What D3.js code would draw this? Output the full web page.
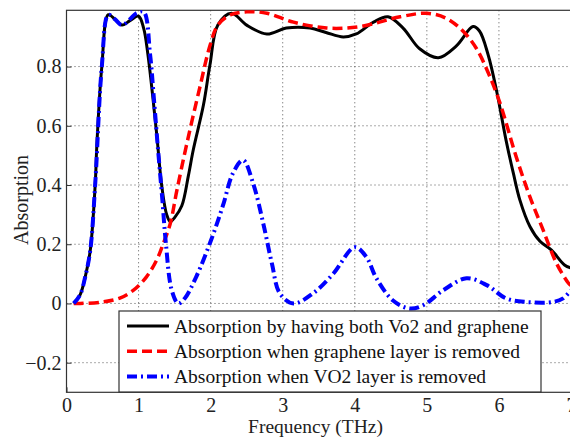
<!DOCTYPE html>
<html>
<head>
<meta charset="utf-8">
<script src="https://cdn.jsdelivr.net/npm/d3@7"></script>
<style>
  body { margin: 0; background: #fff; }
</style>
</head>
<body>
<div class="plot"></div>
<script>
// series: both VO2 and graphene
var fBoth = [0.1,0.19,0.26,0.33,0.40,0.42,0.49,0.58,0.67,0.77,0.88,1.0,1.07,1.13,1.25,1.32,1.39,1.44,1.5,1.6,1.69,1.76,1.90,1.99,2.1,2.29,2.5,2.78,3.05,3.38,3.6,3.84,4.02,4.26,4.46,4.67,4.90,5.16,5.41,5.64,5.73,5.85,5.97,6.1,6.2,6.29,6.43,6.57,6.73,6.91,7.0];
var vBoth = [0,0.03,0.09,0.18,0.41,0.53,0.80,0.975,0.96,0.94,0.955,0.97,0.93,0.84,0.575,0.4,0.3,0.276,0.29,0.33,0.43,0.52,0.67,0.805,0.94,0.98,0.94,0.91,0.93,0.93,0.915,0.90,0.91,0.95,0.968,0.93,0.86,0.83,0.87,0.935,0.92,0.84,0.715,0.55,0.44,0.35,0.26,0.21,0.18,0.13,0.12];

// series: graphene removed
var fNoGr = [0.1,0.19,0.5,0.74,0.93,1.11,1.25,1.34,1.44,1.53,1.67,1.85,1.99,2.1,2.27,2.5,2.78,3.15,3.61,4.07,4.63,5.0,5.27,5.50,5.69,5.85,6.01,6.24,6.43,6.61,6.8,6.96,7.0];
var vNoGr = [0,0,0.005,0.018,0.045,0.09,0.146,0.20,0.27,0.38,0.54,0.73,0.87,0.94,0.974,0.985,0.98,0.95,0.93,0.935,0.968,0.98,0.963,0.92,0.86,0.78,0.68,0.495,0.36,0.25,0.135,0.07,0.06];

// series: VO2 removed
var fNoVo = [0.1,0.19,0.26,0.33,0.40,0.49,0.58,0.67,0.77,0.88,0.97,1.07,1.16,1.21,1.27,1.33,1.38,1.46,1.55,1.64,1.8,2.0,2.17,2.31,2.45,2.59,2.73,2.85,2.96,3.15,3.42,3.70,4.0,4.16,4.30,4.53,4.76,4.95,5.23,5.55,5.83,6.1,6.38,6.75,6.89,7.0];
var vNoVo = [0,0.03,0.09,0.18,0.41,0.80,0.975,0.96,0.94,0.96,0.98,0.985,0.84,0.70,0.52,0.35,0.20,0.045,0,0.017,0.09,0.21,0.33,0.44,0.484,0.405,0.27,0.135,0.034,0,0.034,0.10,0.19,0.157,0.085,0.01,-0.017,-0.006,0.045,0.085,0.062,0.017,0.005,0.005,0.017,0.045];

var xTicks = [0,1,2,3,4,5,6,7];
var yTicks = [-0.2,0,0.2,0.4,0.6,0.8];
var legendLabels = [
  "Absorption by having both Vo2 and graphene",
  "Absorption when graphene layer is removed",
  "Absorption when VO2 layer is removed"
];

var FONT = "Liberation Serif";
var width = 570, height = 439;
var x = d3.scaleLinear().domain([0, 7]).range([66.5, 571]);
var y = d3.scaleLinear().domain([-0.3, 0.99]).range([392.3, 10.3]);

var svg = d3.select(".plot").append("svg")
  .attr("width", width)
  .attr("height", height);

svg.append("defs").append("clipPath").attr("id", "clip")
  .append("rect")
  .attr("x", x(0)).attr("y", y(0.99))
  .attr("width", x(7) - x(0)).attr("height", y(-0.3) - y(0.99));

// grid
var grid = svg.append("g");
grid.selectAll(".gx").data(xTicks.slice(1, -1)).join("line")
  .attr("x1", d => x(d)).attr("x2", d => x(d))
  .attr("y1", y(0.99)).attr("y2", y(-0.3))
  .attr("stroke", "#555").attr("stroke-width", 1).attr("stroke-dasharray", "1,3");
grid.selectAll(".gy").data(yTicks).join("line")
  .attr("x1", x(0)).attr("x2", x(7))
  .attr("y1", d => y(d)).attr("y2", d => y(d))
  .attr("stroke", "#555").attr("stroke-width", 1).attr("stroke-dasharray", "1,3");

// axes (ticks inside, like matlab)
var xAxis = svg.append("g")
  .attr("transform", "translate(0," + y(-0.3) + ")")
  .call(d3.axisBottom(x).tickValues(xTicks).tickSize(-5).tickPadding(6).tickFormat(d3.format("d")));
var yAxis = svg.append("g")
  .attr("transform", "translate(" + x(0) + ",0)")
  .call(d3.axisLeft(y).tickValues(yTicks).tickSize(-5).tickPadding(5).tickFormat(d => d == 0 ? "0" : d3.format(".1f")(d)));
[xAxis, yAxis].forEach(function(a) {
  a.attr("font-family", FONT).attr("font-size", 20)
    .style("font-family", FONT);
  a.select(".domain").remove();
  a.selectAll("line").attr("stroke", "#333");
  a.selectAll("text")
    .style("font-family", FONT)
    .style("font-size", "20px")
    .attr("fill", "#222");
});

// frame
svg.append("rect")
  .attr("x", x(0)).attr("y", y(0.99))
  .attr("width", x(7) - x(0)).attr("height", y(-0.3) - y(0.99))
  .attr("fill", "none").attr("stroke", "#333").attr("stroke-width", 1.2);

var line = d3.line()
  .x(d => x(d[0]))
  .y(d => y(d[1]))
  .curve(d3.curveCatmullRom.alpha(0.5));

var series = [
  { f: fBoth, v: vBoth, color: "#000", dash: null, w: 3 },
  { f: fNoGr, v: vNoGr, color: "#f00", dash: "10,5", w: 3.5 },
  { f: fNoVo, v: vNoVo, color: "#00f", dash: "10,4,2,4", w: 4 }
];

var plot = svg.append("g").attr("clip-path", "url(#clip)");
series.forEach(function(s) {
  plot.append("path")
    .datum(d3.zip(s.f, s.v))
    .attr("d", line)
    .attr("fill", "none")
    .attr("stroke", s.color)
    .attr("stroke-width", s.w)
    .attr("stroke-dasharray", s.dash);
});

// legend
var lg = svg.append("g");
lg.append("rect")
  .attr("x", 119).attr("y", 311)
  .attr("width", 422).attr("height", 81)
  .attr("fill", "#fff").attr("stroke", "#333").attr("stroke-width", 1.2);
series.forEach(function(s, i) {
  var ly = 326 + i * 25.3;
  lg.append("line")
    .attr("x1", 127).attr("x2", 169)
    .attr("y1", ly).attr("y2", ly)
    .attr("stroke", s.color).attr("stroke-width", s.w)
    .attr("stroke-dasharray", s.dash);
  lg.append("text")
    .attr("x", 174).attr("y", ly + 6.5)
    .style("font-family", FONT)
    .style("font-size", "19.5px")
    .attr("fill", "#111")
    .text(legendLabels[i]);
});

// axis labels
svg.append("text")
  .attr("x", 315.5).attr("y", 433)
  .attr("text-anchor", "middle")
  .style("font-family", FONT)
  .style("font-size", "19.5px")
  .attr("fill", "#222")
  .text("Frequency (THz)");
svg.append("text")
  .attr("transform", "translate(28,200) rotate(-90)")
  .attr("text-anchor", "middle")
  .style("font-family", FONT)
  .style("font-size", "20px")
  .attr("fill", "#222")
  .text("Absorption");
</script>
</body>
</html>
